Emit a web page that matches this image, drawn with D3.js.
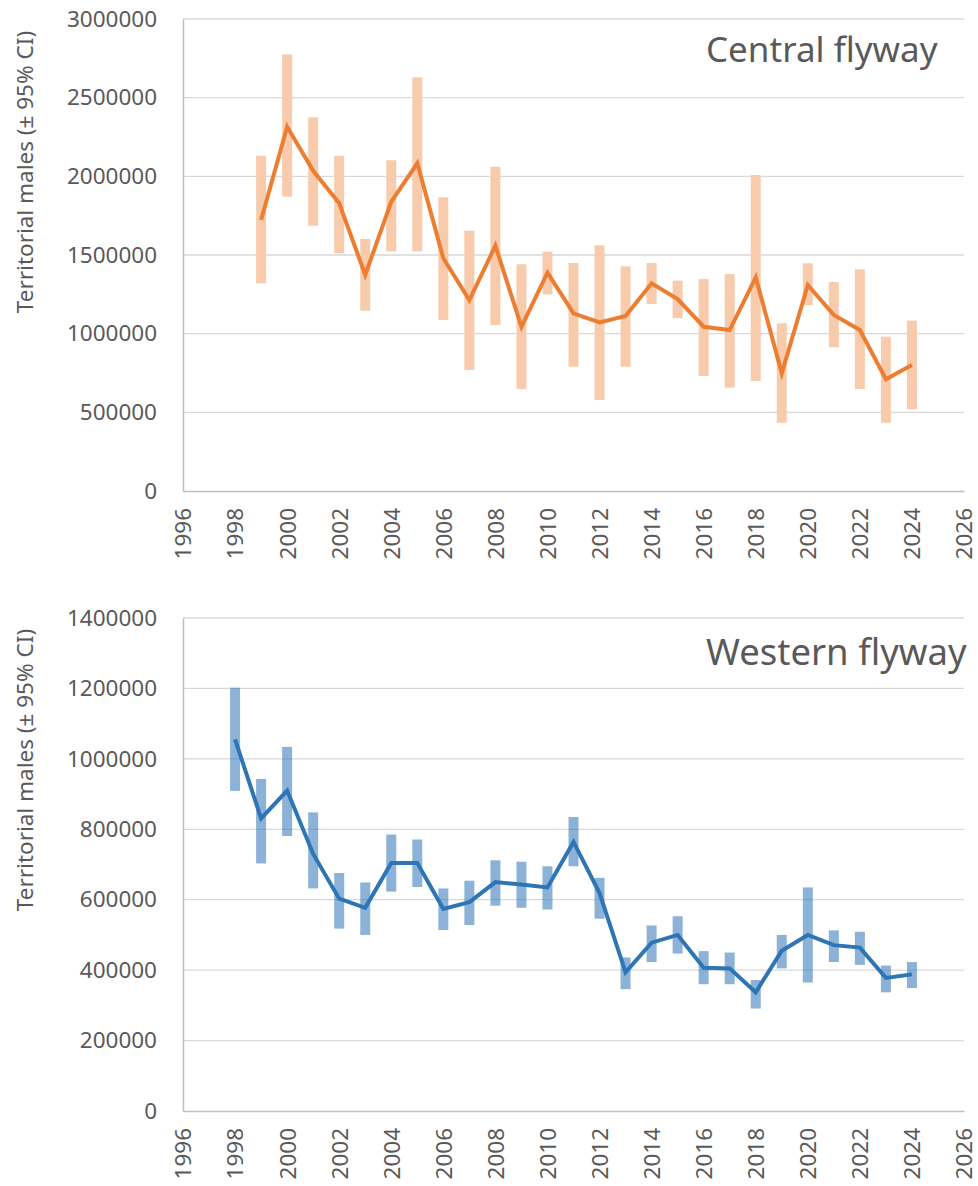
<!DOCTYPE html>
<html>
<head>
<meta charset="utf-8">
<script src="https://cdn.jsdelivr.net/npm/d3@7"></script>
<style>
  body { margin: 0; background: #fff; }
  svg text { font-family: "Noto Sans", "Open Sans", sans-serif; fill: #595959; }
</style>
</head>
<body>
<div id="chart"></div>
<script>
// Central flyway (1999-2024)
const centralYears = d3.range(1999, 2025);
const centralMid = [1722000, 2315000, 2035000, 1829000, 1373000, 1839000, 2083000, 1479000, 1214000, 1559000,
  1044000, 1388000, 1129000, 1072000, 1112000, 1320000, 1220000, 1044000, 1023000, 1358000,
  748000, 1309000, 1119000, 1023000, 710000, 801000];
const centralLow = [1320000, 1871000, 1686000, 1511000, 1146000, 1523000, 1523000, 1087000, 769000, 1055000,
  648000, 1250000, 790000, 578000, 790000, 1189000, 1098000, 731000, 657000, 699000,
  434000, 1182000, 913000, 648000, 434000, 519000];
const centralHigh = [2131000, 2775000, 2375000, 2131000, 1602000, 2102000, 2629000, 1867000, 1655000, 2061000,
  1441000, 1521000, 1449000, 1561000, 1428000, 1449000, 1337000, 1347000, 1379000, 2008000,
  1066000, 1447000, 1328000, 1409000, 981000, 1083000];

// Western flyway (1998-2024)
const westernYears = d3.range(1998, 2025);
const westernMid = [1055000, 831000, 910000, 730000, 603000, 577000, 704000, 704000, 574000, 593000,
  650000, 643000, 635000, 764000, 619000, 394000, 478000, 500000, 407000, 405000,
  337000, 455000, 500000, 471000, 464000, 378000, 388000];
const westernLow = [909000, 703000, 781000, 632000, 518000, 500000, 623000, 636000, 514000, 528000,
  583000, 577000, 572000, 695000, 546000, 346000, 423000, 447000, 360000, 360000,
  291000, 405000, 365000, 423000, 415000, 337000, 349000];
const westernHigh = [1202000, 943000, 1034000, 848000, 676000, 649000, 785000, 771000, 632000, 654000,
  712000, 708000, 695000, 835000, 662000, 436000, 527000, 553000, 454000, 450000,
  372000, 500000, 635000, 513000, 509000, 413000, 423000];

const xTicks = d3.range(1996, 2027, 2);
const centralTicks = d3.range(0, 3000001, 500000);
const westernTicks = d3.range(0, 1400001, 200000);

const width = 978, height = 1186;
const svg = d3.select('#chart').append('svg')
  .attr('width', width)
  .attr('height', height);

function drawPanel(cfg) {
  const x = d3.scaleLinear().domain([1996, 2026]).range([183, 964]);
  const y = d3.scaleLinear().domain([0, cfg.yMax]).range([cfg.bottom, cfg.top]);
  const g = svg.append('g');

  // horizontal gridlines
  g.selectAll('.grid')
    .data(cfg.yTicks.filter(d => d > 0))
    .join('line')
      .attr('x1', x(1996)).attr('x2', x(2026))
      .attr('y1', d => y(d)).attr('y2', d => y(d))
      .attr('stroke', '#d9d9d9')
      .attr('stroke-width', 1.3);

  // y axis
  const yAxis = d3.axisLeft(y).tickValues(cfg.yTicks).tickSize(0).tickPadding(26).tickFormat(d3.format('d'));
  const yg = g.append('g').attr('transform', `translate(${x(1996)},0)`).call(yAxis);
  yg.select('.domain').attr('stroke', '#bfbfbf').attr('stroke-width', 1.5);
  yg.selectAll('text').attr('font-size', 22.5).style('font-family', '"Noto Sans", sans-serif').attr('fill', '#595959');

  // x axis
  const xAxis = d3.axisBottom(x).tickValues(xTicks).tickSize(0).tickFormat(d3.format('d'));
  const xg = g.append('g').attr('transform', `translate(0,${cfg.bottom})`).call(xAxis);
  xg.select('.domain').attr('stroke', '#bfbfbf').attr('stroke-width', 1.5);
  xg.selectAll('text')
    .attr('font-size', 22.5)
    .style('font-family', '"Noto Sans", sans-serif')
    .attr('fill', '#595959')
    .attr('text-anchor', 'end')
    .attr('dy', '0.35em')
    .attr('transform', 'translate(0,17) rotate(-90)')
    .attr('x', 0).attr('y', 0);

  // confidence interval bars
  g.selectAll('.ci')
    .data(cfg.years)
    .join('rect')
      .attr('x', (d) => x(d) - 5)
      .attr('width', 10)
      .attr('y', (d, i) => y(cfg.high[i]))
      .attr('height', (d, i) => y(cfg.low[i]) - y(cfg.high[i]))
      .attr('fill', cfg.barColor)
      .attr('opacity', cfg.barOpacity);

  // trend line
  const line = d3.line().x(d => x(d[0])).y(d => y(d[1]));
  g.append('path')
    .datum(cfg.years.map((d, i) => [d, cfg.mid[i]]))
    .attr('d', line)
    .attr('fill', 'none')
    .attr('stroke', cfg.lineColor)
    .attr('stroke-width', 4)
    .attr('stroke-linejoin', 'miter');

  // y axis title
  g.append('text')
    .attr('transform', `translate(33,${cfg.titleY}) rotate(-90)`)
    .attr('text-anchor', 'middle')
    .attr('font-size', 22.5)
    .text('Territorial males (± 95% CI)');

  // panel label
  g.append('text')
    .attr('x', 706)
    .attr('y', cfg.labelY)
    .attr('font-size', cfg.labelSize)
    .attr('fill', '#595959')
    .text(cfg.label);
}

drawPanel({
  years: centralYears, mid: centralMid, low: centralLow, high: centralHigh,
  yMax: 3000000, yTicks: centralTicks, top: 19, bottom: 491,
  barColor: '#f8cbad', barOpacity: 1, lineColor: '#ed7d31',
  label: 'Central flyway', labelY: 62, labelSize: 35, titleY: 172
});

drawPanel({
  years: westernYears, mid: westernMid, low: westernLow, high: westernHigh,
  yMax: 1400000, yTicks: westernTicks, top: 618, bottom: 1111,
  barColor: '#2e75b6', barOpacity: 0.55, lineColor: '#2e75b6',
  label: 'Western flyway', labelY: 665, labelSize: 36.5, titleY: 770
});
</script>
</body>
</html>
